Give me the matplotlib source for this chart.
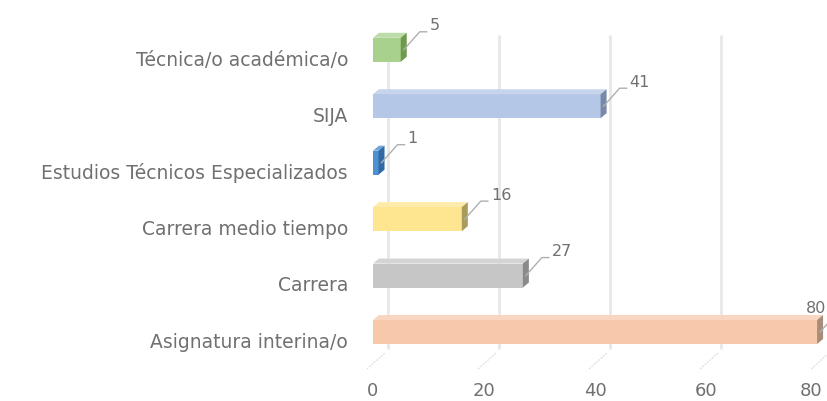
import matplotlib
matplotlib.use("Agg")
import matplotlib.pyplot as plt
from matplotlib.patches import Polygon
from matplotlib.transforms import ScaledTranslation

categories = ["Asignatura interina/o", "Carrera", "Carrera medio tiempo",
              "Estudios Técnicos Especializados", "SIJA", "Técnica/o académica/o"]
values = [80, 27, 16, 1, 41, 5]
xticks = [0, 20, 40, 60, 80]

front_colors = ["#f7c9aa", "#c6c6c6", "#fde68f", "#4f91d0", "#b4c7e7", "#a9d18e"]
top_colors = ["#f9d6bf", "#d4d4d4", "#fdeca9", "#6fa6da", "#c6d4ec", "#bddcaa"]
side_colors = ["#a88b78", "#8a8a8a", "#a89b5c", "#2f6aa4", "#7888a8", "#6d9a4d"]

plt.rcParams['font.family'] = ['DejaVu Sans']
W, H, DPI = 8.27, 4.02, 100
fig = plt.figure(figsize=(W, H), dpi=DPI)
ax_l, ax_b, ax_w, ax_h = 0.451, 0.1045, 0.537, 0.845
ax = fig.add_axes([ax_l, ax_b, ax_w, ax_h])
xmin, xmax = 0, 80
ymin, ymax = -0.478, 5.54
ax.set_xlim(xmin, xmax)
ax.set_ylim(ymin, ymax)

# pixel -> data conversions
px_x = (xmax - xmin) / (ax_w * W * DPI)
px_y = (ymax - ymin) / (ax_h * H * DPI)
fig_right_data = xmin + (1.0 - ax_l) * W * DPI * px_x

depth_dx, depth_dy = 6 * px_x, 5 * px_y
grid_dx = 15 * px_x
bar_h = 0.425
text_col = "#707070"

# back-wall gridlines
for v in xticks:
    ax.plot([v + grid_dx, v + grid_dx], [ymin + 10 * px_y, ymax - 16 * px_y],
            color="#e8e8e8", lw=2.0, zorder=0, solid_capstyle="butt")
    ax.plot([v - 6 * px_x, v + grid_dx - 3 * px_x],
            [ymin - 10 * px_y, ymin + 6 * px_y],
            color="#dedede", lw=0.9, ls=(0, (1.5, 1)), zorder=0, clip_on=False)

ypos = list(range(len(categories)))
bars = ax.barh(ypos, values, height=bar_h, color=front_colors, zorder=3)
for bar, tc, sc in zip(bars, top_colors, side_colors):
    x0, y0 = bar.get_x(), bar.get_y()
    w, h = bar.get_width(), bar.get_height()
    top = Polygon([(x0, y0 + h), (x0 + w, y0 + h), (x0 + w + depth_dx, y0 + h + depth_dy),
                   (x0 + depth_dx, y0 + h + depth_dy)], closed=True, fc=tc, ec="none", zorder=3)
    side = Polygon([(x0 + w, y0), (x0 + w + depth_dx, y0 + depth_dy),
                    (x0 + w + depth_dx, y0 + h + depth_dy), (x0 + w, y0 + h)],
                   closed=True, fc=sc, ec="none", zorder=3)
    ax.add_patch(top)
    ax.add_patch(side)
    side.set_clip_on(False)
    top.set_clip_on(False)
    bar.set_clip_on(False)

    # data label with leader line
    sx, sy = x0 + w + depth_dx * 0.5, y0 + h * 0.5
    ex, ey = sx + 16 * px_x, sy + 18 * px_y
    lx = ex + 10 * px_x
    ha = "left"
    if lx + 24 * px_x > fig_right_data:
        lx, ha = fig_right_data - 1 * px_x, "right"
    ax.plot([sx, ex, ex + 7 * px_x], [sy, ey, ey], color="#b0b0b0", lw=1.0,
            zorder=4, clip_on=False)
    ax.text(lx, ey + 7 * px_y, f"{int(w)}", fontsize=11.5, color=text_col,
            ha=ha, va="center", zorder=5, clip_on=False)

ax.set_yticks([p - 0.13 for p in ypos])
ax.set_yticklabels(categories, fontsize=13.5, color=text_col)
ax.set_xticks(xticks)
ax.set_xticklabels([str(t) for t in xticks], fontsize=13, color=text_col)
ax.tick_params(axis="y", length=0, pad=18)
ax.tick_params(axis="x", length=0, pad=16)
for s in ax.spines.values():
    s.set_visible(False)
ax.set_facecolor("none")

# keep the last x tick label inside the figure
last = ax.get_xticklabels()[-1]
last.set_transform(last.get_transform() + ScaledTranslation(-4 / 72, 0, fig.dpi_scale_trans))

fig.savefig("out.png", dpi=DPI, facecolor="white")
